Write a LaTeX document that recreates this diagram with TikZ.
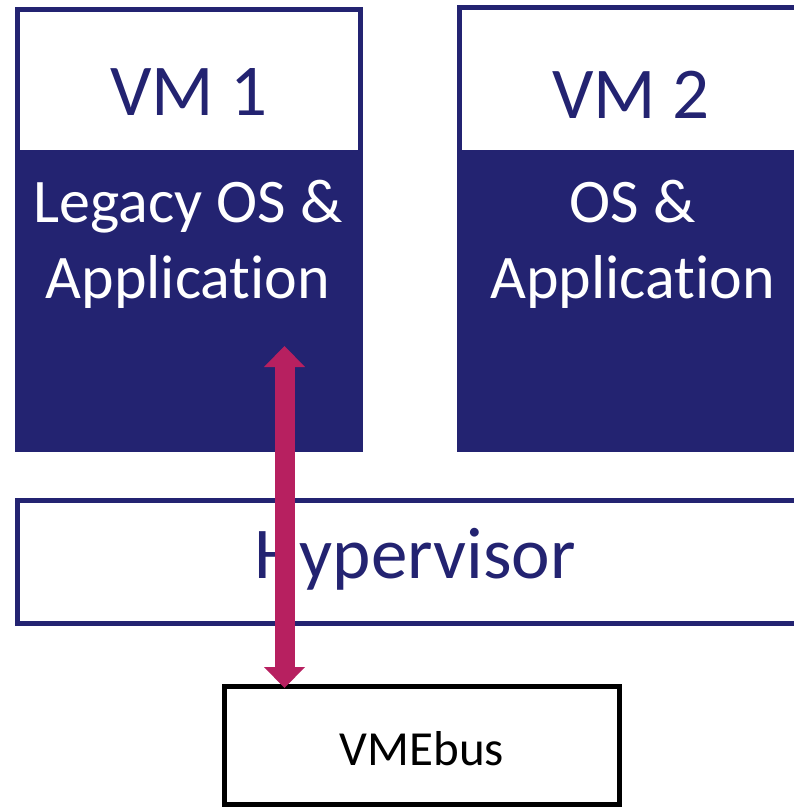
\documentclass[tikz,border=0pt]{standalone}
\usepackage{fontspec}
\setmainfont{Carlito}[Ligatures={NoCommon,NoContextual,NoRequired}]
\usetikzlibrary{arrows.meta}
\definecolor{navy}{RGB}{35,35,113}
\definecolor{linkred}{RGB}{183,32,96}
\begin{document}
\begin{tikzpicture}[x=1pt,y=-1pt,
  titlebox/.style={draw=navy, line width=5pt, fill=white, inner sep=0pt, outer sep=0pt},
  bodybox/.style={fill=navy, inner sep=0pt, outer sep=0pt},
  busbox/.style={draw=black, line width=5pt, fill=white, inner sep=0pt, outer sep=0pt},
  label/.style={inner sep=0pt, anchor=base},
  bigtxt/.style={label, text=navy, font=\fontsize{73}{88}\selectfont},
  bodytxt/.style={label, text=white, font=\fontsize{62}{76}\selectfont},
  bustxt/.style={label, text=black, font=\fontsize{49}{59}\selectfont},
  link/.style={linkred, line width=20pt, line cap=butt,
    {Triangle[length=21pt,width=41pt,line width=0pt]}-{Triangle[length=21pt,width=41pt,line width=0pt]}}]
  \useasboundingbox (0,0) rectangle (794,808);

  % virtual machine 1
  \node[bodybox, minimum width=348pt, minimum height=302pt] (vm1body) at (189,301) {};
  \node[titlebox, minimum width=343pt, minimum height=142.5pt] (vm1title) at (189,80.75) {};
  \node[bigtxt] (vm1name) at (189,115) {VM 1};
  \node[bodytxt] (vm1os) at (188,222) {Legacy OS \&};
  \node[bodytxt] (vm1app) at (188,298) {Applicat\kern0pt ion};

  % virtual machine 2
  \node[bodybox, minimum width=348pt, minimum height=302pt] (vm2body) at (631,301) {};
  \node[titlebox, minimum width=343pt, minimum height=144.5pt] (vm2title) at (631,79.75) {};
  \node[bigtxt] (vm2name) at (631,118) {VM 2};
  \node[bodytxt] (vm2os) at (632.5,222) {OS \&};
  \node[bodytxt] (vm2app) at (632.5,298) {Applicat\kern0pt ion};

  % hypervisor layer
  \node[titlebox, minimum width=795pt, minimum height=123pt] (hyper) at (415,562) {};
  \node[bigtxt] (hypername) at (415,578) {Hypervisor};

  % VMEbus
  \node[busbox, minimum width=395pt, minimum height=118pt] (vmebus) at (422,745.5) {};
  \node[bustxt] (busname) at (422,765) {VMEbus};

  % legacy pass-through from VM 1 to the bus
  \coordinate (vmport) at (284.5,346);
  \coordinate (busport) at (284.5,688);
  \draw[link] (vmport) -- (busport);
\end{tikzpicture}
\end{document}
